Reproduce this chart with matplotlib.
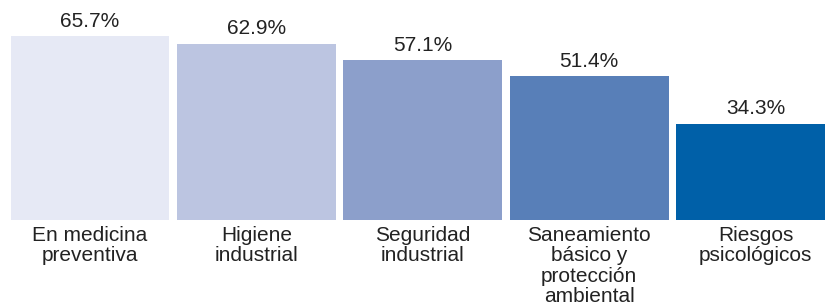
import matplotlib
matplotlib.use("Agg")
from matplotlib import pyplot as plt

categories = ["En medicina\npreventiva", "Higiene\nindustrial", "Seguridad\nindustrial",
              "Saneamiento\nbásico y\nprotección\nambiental", "Riesgos\npsicológicos"]
values = [65.7, 62.9, 57.1, 51.4, 34.3]
colors = ["#e6e9f5", "#bcc5e1", "#8c9fcb", "#587fb8", "#0060a8"]

plt.rcParams['font.family'] = ['Liberation Sans', 'DejaVu Sans']

fig = plt.figure(figsize=(8.25, 3.07), dpi=100)
ax = fig.add_axes([0, 87 / 307, 1, 220 / 307])

x = range(len(values))
bars = ax.bar(x, values, width=0.955, color=colors)
for b, v in zip(bars, values):
    ax.annotate(f"{v}%", (b.get_x() + b.get_width() / 2, v), xytext=(0, 4),
                textcoords="offset points", ha="center", va="bottom",
                fontsize=15, color="#222222")

ax.set_xlim(-0.541, 4.417)
ax.set_ylim(0, 78.6)
ax.set_xticks(list(x))
ax.set_xticklabels(categories, fontsize=15, color="#222222", linespacing=1.1)
ax.tick_params(axis="x", length=0, pad=4)
ax.set_yticks([])
for s in ax.spines.values():
    s.set_visible(False)

fig.savefig("out.png", dpi=100)
